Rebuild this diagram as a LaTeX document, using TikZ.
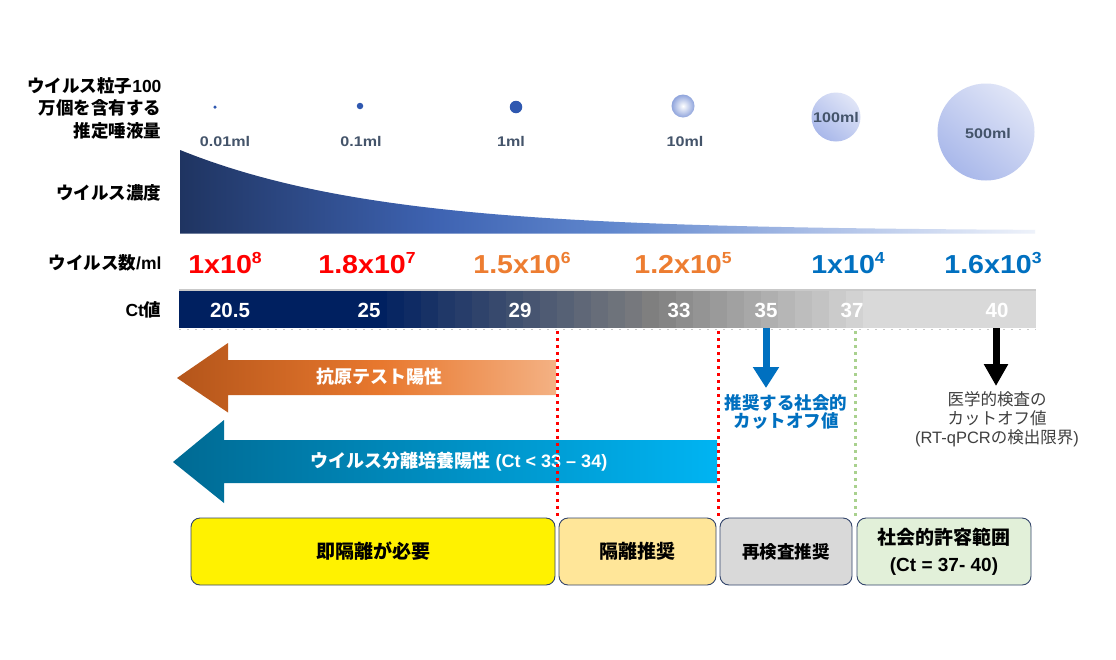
\documentclass[tikz,border=0pt]{standalone}
\usepackage{fontspec}
\setmainfont{Liberation Sans}
\newfontfamily\jp{Noto Sans CJK JP}
\usetikzlibrary{arrows.meta}
\definecolor{navy}{HTML}{002060}
\definecolor{cA}{HTML}{1F3461}
\definecolor{cB}{HTML}{3E63B2}
\definecolor{cC}{HTML}{5F86CD}
\definecolor{cD}{HTML}{A9BDE6}
\definecolor{cE}{HTML}{EEF2FA}
\definecolor{dotblue}{HTML}{2F58B0}
\definecolor{ball10}{HTML}{8FA4DC}
\definecolor{ballA}{HTML}{A9B8EA}
\definecolor{ballB}{HTML}{E0E5F7}
\definecolor{mltext}{HTML}{44546A}
\definecolor{redc}{HTML}{FF0000}
\definecolor{orangec}{HTML}{ED7D31}
\definecolor{bluec}{HTML}{0070C0}
\definecolor{ctgray}{HTML}{7F7F7F}
\definecolor{ctlight}{HTML}{D9D9D9}
\definecolor{barborder}{HTML}{C9C9C9}
\definecolor{oA}{HTML}{B4551A}
\definecolor{oB}{HTML}{E8782E}
\definecolor{oC}{HTML}{F4B183}
\definecolor{tA}{HTML}{006A93}
\definecolor{tB}{HTML}{00B4F2}
\definecolor{greendot}{HTML}{A9D18E}
\definecolor{boxline}{HTML}{33456B}
\definecolor{boxorange}{HTML}{FFE699}
\definecolor{boxgray}{HTML}{D9D9D9}
\definecolor{boxgreen}{HTML}{E2F0D9}
\definecolor{darktext}{HTML}{404040}
\pgfdeclarehorizontalshading{concshade}{100bp}{color(0bp)=(cA); color(25bp)=(cA); color(40bp)=(cB); color(50bp)=(cC); color(62bp)=(cD); color(75bp)=(cE); color(100bp)=(cE)}
\pgfdeclarehorizontalshading{orangeshade}{100bp}{color(0bp)=(oA); color(25bp)=(oA); color(52bp)=(oB); color(75bp)=(oC); color(100bp)=(oC)}
\pgfdeclarehorizontalshading{tealshade}{100bp}{color(0bp)=(tA); color(25bp)=(tA); color(75bp)=(tB); color(100bp)=(tB)}
\newcommand\sups[1]{\raisebox{0.4em}{\fontsize{16}{16}\selectfont #1}}
\begin{document}
\begin{tikzpicture}[x=1pt,y=-1pt,
  leftlab/.style={anchor=east,align=right,font=\bfseries\fontsize{17.5}{22.5}\selectfont},
  dot/.style={circle,inner sep=0pt,fill=dotblue},
  mllab/.style={font=\bfseries\fontsize{14}{14}\selectfont,text=mltext},
  count/.style={font=\bfseries\fontsize{26}{26}\selectfont},
  ctnum/.style={font=\bfseries\fontsize{20.5}{20.5}\selectfont,text=white},
  arrtext/.style={font=\bfseries\fontsize{18}{18}\selectfont,text=white},
  boxstyle/.style={draw=boxline,line width=0.9pt,rounded corners=9pt,inner sep=0pt,minimum height=67pt,font=\bfseries\fontsize{19}{27}\selectfont,align=center},
  downarrow/.style={line width=7pt,-{Triangle[width=25pt,length=21pt]}}
]
\useasboundingbox (0,0) rectangle (1116,659);
\fill[white] (0,0) rectangle (1116,659);

% left labels
\node[leftlab] (lab1) at (165,108) {{\jp ウイルス粒子}100\\{\jp 万個を含有する}\\{\jp 推定唾液量}};
\node[leftlab] (lab2) at (165,193) {\jp ウイルス濃度};
\node[leftlab] (lab3) at (165,263) {{\jp ウイルス数}/ml};
\node[leftlab] (lab4) at (165,310) {Ct{\jp 値}};

% saliva volume circles
\node[dot,minimum size=3.5pt] (c1) at (215,107) {};
\node[dot,minimum size=6.5pt] (c2) at (360,106) {};
\node[dot,minimum size=12.5pt] (c3) at (516,107) {};
\node[circle,inner sep=0pt,minimum size=23pt,inner color=white,outer color=ball10] (c4) at (683,106) {};
\node[circle,inner sep=0pt,minimum size=49pt,top color=ballB,bottom color=ballA,shading angle=-40] (c5) at (836,117) {};
\node[circle,inner sep=0pt,minimum size=97pt,top color=ballB,bottom color=ballA,shading angle=-40] (c6) at (986,132) {};
\node[mllab] (m1) at (225,141) {\scalebox{1.15}[1]{0.01ml}};
\node[mllab] (m2) at (361,141) {\scalebox{1.15}[1]{0.1ml}};
\node[mllab] (m3) at (511,141) {\scalebox{1.15}[1]{1ml}};
\node[mllab] (m4) at (685,141) {\scalebox{1.15}[1]{10ml}};
\node[mllab] (m5) at (836,117) {\scalebox{1.15}[1]{100ml}};
\node[mllab] (m6) at (988,133) {\scalebox{1.15}[1]{500ml}};

% virus concentration curve
\shade[shading=concshade] (180,233.5) -- plot[domain=180:1035,samples=90] (\x,{231-81*exp(-(\x-180)/200)}) -- (1035,233.5) -- cycle;

% virus counts
\node[count,text=redc] (v1) at (225,263) {\scalebox{1.1}[1]{1x10\sups{8}}};
\node[count,text=redc] (v2) at (367,263) {\scalebox{1.1}[1]{1.8x10\sups{7}}};
\node[count,text=orangec] (v3) at (522,263) {\scalebox{1.1}[1]{1.5x10\sups{6}}};
\node[count,text=orangec] (v4) at (683,263) {\scalebox{1.1}[1]{1.2x10\sups{5}}};
\node[count,text=bluec] (v5) at (848,263) {\scalebox{1.1}[1]{1x10\sups{4}}};
\node[count,text=bluec] (v6) at (993,263) {\scalebox{1.1}[1]{1.6x10\sups{3}}};

% Ct bar
\fill[barborder] (179,288.5) rectangle (1036,291.5);
\fill[navy] (179,291) rectangle (371,328);
\foreach \i in {0,...,28}{
  \ifnum\i<17
    \pgfmathtruncatemacro\p{100*\i/16}
    \fill[ctgray!\p!navy] (370+17*\i,291) rectangle (387.6+17*\i,328);
  \else
    \pgfmathtruncatemacro\p{100*(\i-16)/13}
    \fill[ctlight!\p!ctgray] (370+17*\i,291) rectangle (387.6+17*\i,328);
  \fi
}
\fill[ctlight] (863,291) rectangle (1036,328);
\draw[barborder,line width=0.8pt,dash pattern=on 2pt off 6pt] (179,329) -- (1036,329);
\node[ctnum] (n1) at (230,310) {20.5};
\node[ctnum] (n2) at (369,310) {25};
\node[ctnum] (n3) at (520,310) {29};
\node[ctnum] (n4) at (679,310) {33};
\node[ctnum] (n5) at (766,310) {35};
\node[ctnum] (n6) at (852,310) {37};
\node[ctnum] (n7) at (997,310) {40};

% dotted separators
\coordinate (r1t) at (557,331); \coordinate (r1b) at (557,517);
\coordinate (r2t) at (718,331); \coordinate (r2b) at (718,517);
\coordinate (g1t) at (855,331); \coordinate (g1b) at (855,517);

% block arrows
\shade[shading=orangeshade] (177,378) -- (228,343) -- (228,360) -- (556,360) -- (556,395) -- (228,395) -- (228,412.5) -- cycle;
\shade[shading=tealshade] (173,462) -- (224,420) -- (224,440) -- (717,440) -- (717,483) -- (224,483) -- (224,503) -- cycle;
\node[arrtext] (at1) at (379,377) {\jp 抗原テスト陽性};
\node[arrtext] (at2) at (459,462) {{\jp ウイルス分離培養陽性} (Ct < 33 – 34)};

\draw[draw=redc,line width=3pt,dash pattern=on 3pt off 4pt] (r1t) -- (r1b);
\draw[draw=redc,line width=3pt,dash pattern=on 3pt off 4pt] (r2t) -- (r2b);
\draw[draw=greendot,line width=3pt,dash pattern=on 3pt off 4pt] (g1t) -- (g1b);

% down arrows
\coordinate (d35) at (766,328); \coordinate (d35e) at (766,388);
\coordinate (d40) at (996,328); \coordinate (d40e) at (996,386);
\draw[downarrow,draw=bluec,fill=bluec] (d35) -- (d35e);
\draw[downarrow,draw=black,fill=black,-{Triangle[width=23pt,length=22pt]}] (d40) -- (d40e);
\node[font=\bfseries\fontsize{17.5}{18.5}\selectfont,text=bluec,align=center] (t35) at (786,412) {\jp 推奨する社会的\\\jp カットオフ値};
\node[font=\fontsize{16.5}{19}\selectfont,text=darktext,align=center] (t40) at (997,419) {{\jp 医学的検査の}\\{\jp カットオフ値}\\(RT-qPCR{\jp の検出限界})};

% bottom boxes
\node[boxstyle,fill=yellow,minimum width=364pt] (b1) at (373,551.5) {\jp 即隔離が必要};
\node[boxstyle,fill=boxorange,minimum width=157pt] (b2) at (637.5,551.5) {\jp 隔離推奨};
\node[boxstyle,fill=boxgray,minimum width=132pt,font=\bfseries\fontsize{17.5}{24}\selectfont] (b3) at (786,551.5) {\jp 再検査推奨};
\node[boxstyle,fill=boxgreen,minimum width=174pt] (b4) at (944,551.5) {{\jp 社会的許容範囲}\\(Ct = 37- 40)};
\end{tikzpicture}
\end{document}
